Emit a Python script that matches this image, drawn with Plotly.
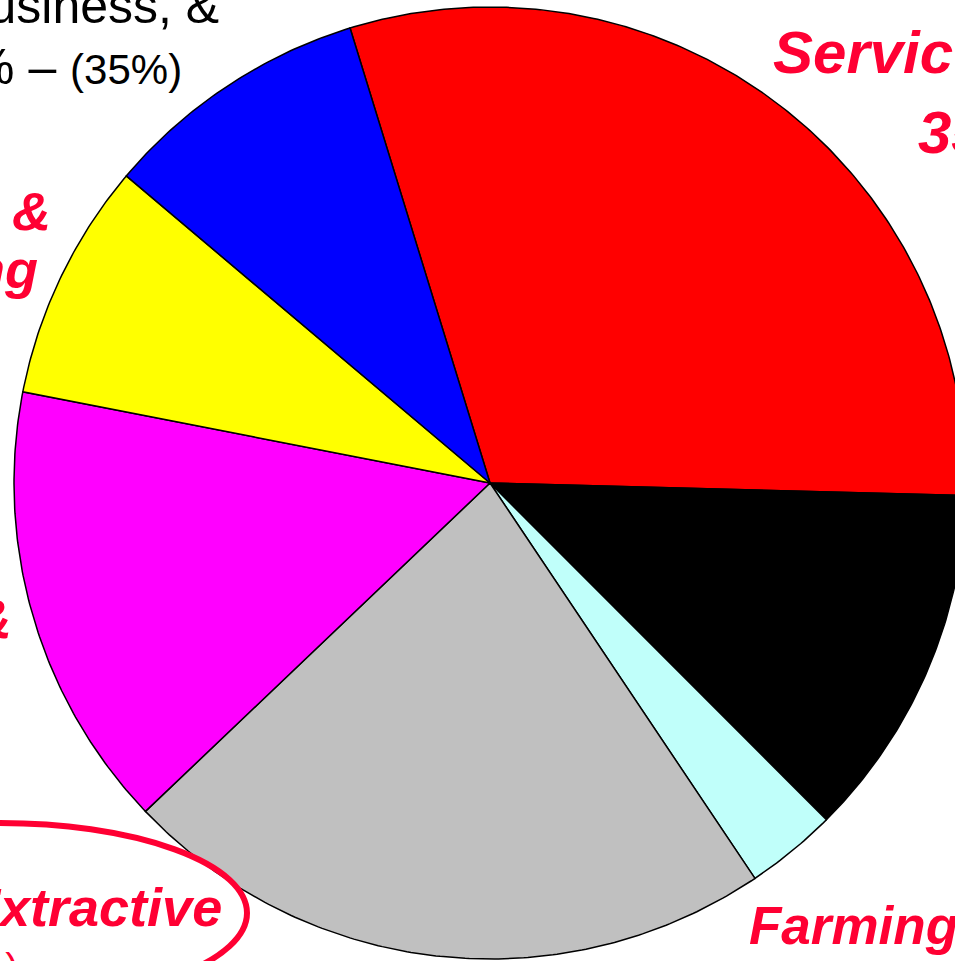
import numpy as np
import plotly.graph_objects as go

# Slice data (percent shares), in clockwise order starting at the Services slice
categories = ["Services", "Trade", "Farming", "Extractive", "Government", "Manufacturing", "Finance"]
values = [30.2, 12.1, 3.1, 22.3, 15.2, 8.1, 9.1]
colors = ["#FF0000", "#000000", "#C0FFFA", "#C0C0C0", "#FF00FF", "#FFFF00", "#0000FF"]
start_angle_deg = 342.9  # clockwise from 12 o'clock

W, H = 955, 961
CX, CY, R = 490, 483, 476  # pie centre and radius in pixels

fig = go.Figure()
total = sum(values)
ang = start_angle_deg
for name, v, c in zip(categories, values, colors):
    span = v / total * 360.0
    n = max(int(span * 2), 4)
    th = np.radians(np.linspace(ang, ang + span, n))
    xs = np.concatenate([[0.0], np.sin(th), [0.0]])
    ys = np.concatenate([[0.0], np.cos(th), [0.0]])
    fig.add_trace(go.Scatter(x=xs, y=ys, mode="lines", fill="toself", fillcolor=c,
                             line=dict(color="black", width=1.5), name=name,
                             hoverinfo="name", showlegend=False))
    ang += span

fig.update_xaxes(range=[-CX / R, (W - CX) / R], visible=False, fixedrange=True)
fig.update_yaxes(range=[-(H - CY) / R, CY / R], visible=False, fixedrange=True)

RED = "#FF0033"

def px(x):
    return x / W

def py(y):
    return 1 - y / H

def ann(text, x, y, size, color=RED, bold=True, italic=True, xanchor="left"):
    t = text
    if bold:
        t = "<b>" + t + "</b>"
    if italic:
        t = "<i>" + t + "</i>"
    fig.add_annotation(text=t, x=px(x), y=py(y), xref="paper", yref="paper",
                       xanchor=xanchor, yanchor="middle", showarrow=False,
                       font=dict(family="Liberation Sans, Arial", size=size, color=color))

# top-left black labels
ann("Trade, Finance, Business, &", 221, 6, 50, color="black", bold=False, italic=False, xanchor="right")
ann("Transportation 25% – <span style='font-size:42px'>(35%)</span>", 184, 67, 50,
    color="black", bold=False, italic=False, xanchor="right")

# red labels
ann("Services", 771, 53, 60)
ann("35%", 916, 132, 60)
ann("Construction &", 53, 211, 54, xanchor="right")
ann("Manufacturing", 40, 269, 54, xanchor="right")
ann("Government &", 14, 618, 56, xanchor="right")
ann("Extractive", 224, 907, 54, xanchor="right")
ann("(2%)", 20, 968, 40, bold=False, italic=False, xanchor="right")
ann("Farming", 747, 925, 53)

# ellipse around Extractive
ECX, ECY, EA, EB = 0, 913, 247, 90
fig.add_shape(type="circle", xref="paper", yref="paper",
              x0=px(ECX - EA), x1=px(ECX + EA), y0=py(ECY + EB), y1=py(ECY - EB),
              line=dict(color=RED, width=6), fillcolor="rgba(0,0,0,0)")

fig.update_layout(width=W, height=H, margin=dict(l=0, r=0, t=0, b=0),
                  paper_bgcolor="white", plot_bgcolor="white", showlegend=False)

fig.write_html("out.html", config={"displayModeBar": False},
               post_script="document.body.style.margin='0';document.body.style.overflow='hidden';")
